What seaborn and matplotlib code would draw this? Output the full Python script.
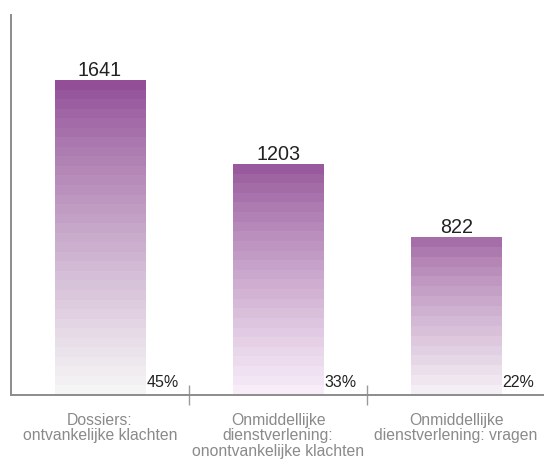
import numpy as np
import pandas as pd
import matplotlib
matplotlib.use("Agg")
import matplotlib.pyplot as plt
import seaborn as sns
from matplotlib.colors import to_rgb

# ---- data ----
categories = ["Dossiers:\nontvankelijke klachten",
              "Onmiddellijke\ndienstverlening:\nonontvankelijke klachten",
              "Onmiddellijke\ndienstverlening: vragen"]
counts = [1641, 1203, 822]
shares = ["45%", "33%", "22%"]
top_colors = ["#924f98", "#985a9c", "#a66ea8"]
bottom_colors = ["#f6f5f6", "#f7ecf8", "#f4eef5"]

sns.set_theme(style="white")
plt.rcParams['font.family'] = ['Liberation Sans', 'DejaVu Sans']

fig = plt.figure(figsize=(5.44, 4.60), dpi=100)
ax = fig.add_axes([0.0202, 0.1402, 0.982, 0.8250])

df = pd.DataFrame({"cat": categories, "n": counts})
sns.barplot(data=df, x="cat", y="n", ax=ax, width=0.51, color="white",
            linewidth=0, saturation=1, errorbar=None)
ax.set_xlim(-0.5, 2.5)
ax.set_ylim(0, 1980)

for i, p in enumerate(ax.patches):
    x0 = p.get_x(); w = p.get_width(); h = p.get_height()
    nb = max(int(round(h / 50)), 2)
    t = np.linspace(0, 1, nb)[:, None] ** 0.85
    c0 = np.array(to_rgb(top_colors[i])); c1 = np.array(to_rgb(bottom_colors[i]))
    cols = (c0[None, :] * (1 - t) + c1[None, :] * t)[:, None, :]
    im = ax.imshow(cols, extent=[x0, x0 + w, 0, h], origin='upper',
                   aspect='auto', interpolation='nearest', zorder=2)
    im.set_clip_path(p)
    ax.annotate(str(counts[i]), xy=(x0 + w / 2, h), xytext=(0, 3.3),
                textcoords='offset points', ha='center', va='baseline',
                fontsize=14.2, color='#222222', zorder=3)
    ax.annotate(shares[i], xy=(x0 + w, 0), xytext=(0.8, 6),
                textcoords='offset points', ha='left', va='baseline',
                fontsize=11.5, color='#222222', zorder=3)

ax.set_xlim(-0.5, 2.5)
ax.set_ylim(0, 1980)
ax.set_xlabel('')
ax.set_ylabel('')
ax.set_yticks([])
ax.set_xticks([0.5, 1.5], minor=True)
ax.tick_params(axis='x', which='major', length=0, pad=12.5, labelsize=11.3,
               labelcolor='#8a8a8a')
ax.tick_params(axis='x', which='minor', bottom=True, direction='inout',
               length=15, width=1.0, color='#9a9a9a')
for lbl in ax.get_xticklabels():
    lbl.set_linespacing(1.05)

for s in ['top', 'right']:
    ax.spines[s].set_visible(False)
for s in ['left', 'bottom']:
    ax.spines[s].set_color('#8c8c8c')
    ax.spines[s].set_linewidth(1.4)

fig.savefig("out.png", dpi=100)
